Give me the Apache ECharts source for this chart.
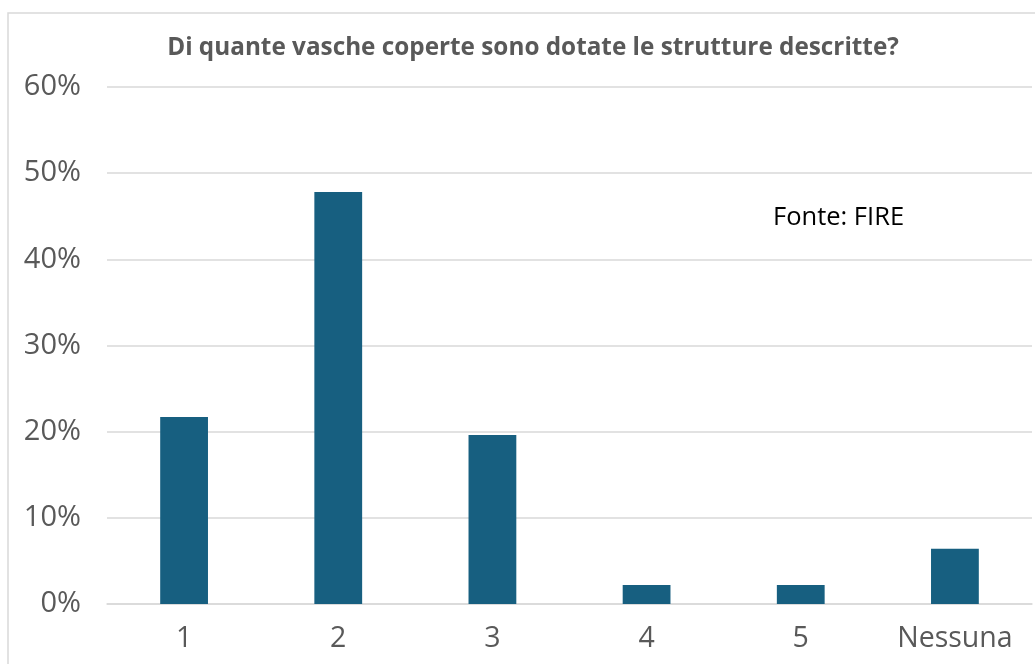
<!DOCTYPE html>
<html><head><meta charset="utf-8">
<script src="https://cdn.jsdelivr.net/npm/echarts@6/dist/echarts.min.js"></script>
<style>html,body{margin:0;padding:0;background:#fff}#c{width:1035px;height:664px}</style>
</head><body><div id="c"></div>
<script>
const categories = ['1', '2', '3', '4', '5', 'Nessuna'];
const values = [21.7, 47.8, 19.6, 2.2, 2.2, 6.4];
const yTicks = [0, 10, 20, 30, 40, 50, 60];
const titleText = 'Di quante vasche coperte sono dotate le strutture descritte?';
const sourceText = 'Fonte: FIRE';

const chart = echarts.init(document.getElementById('c'));
chart.setOption({
  animation: false,
  backgroundColor: '#fff',
  title: {
    text: titleText, left: 528, top: 31, textAlign: 'center',
    textStyle: {fontFamily: 'Open Sans', fontWeight: 'bold', fontSize: 24.3, color: '#595959'}
  },
  graphic: [
    {type: 'rect', shape: {x: 8, y: 13, width: 1040, height: 670}, style: {fill: 'none', stroke: '#d9d9d9', lineWidth: 1.5}, silent: true, z: -1},
    {type: 'text', left: 773, top: 205, style: {text: sourceText, fontFamily: 'Open Sans', fontSize: 25.5, fill: '#000'}}
  ],
  grid: {left: 107, right: 3, top: 87, bottom: 60, containLabel: false},
  xAxis: {
    type: 'category', data: categories,
    axisLine: {show: true, lineStyle: {color: '#d9d9d9', width: 1.5}},
    axisTick: {show: false},
    axisLabel: {fontFamily: 'Open Sans', fontSize: 28.5, color: '#595959', margin: 20}
  },
  yAxis: {
    type: 'value', min: 0, max: 60, interval: 10,
    axisLine: {show: false}, axisTick: {show: false},
    splitLine: {lineStyle: {color: '#d9d9d9', width: 1.5}},
    axisLabel: {fontFamily: 'Open Sans', fontSize: 29, color: '#595959', margin: 26,
      formatter: v => yTicks.includes(v) ? v + '%' : ''}
  },
  series: [{
    type: 'bar', data: values, barWidth: '31%',
    itemStyle: {color: '#175f80'}
  }]
});
</script></body></html>
